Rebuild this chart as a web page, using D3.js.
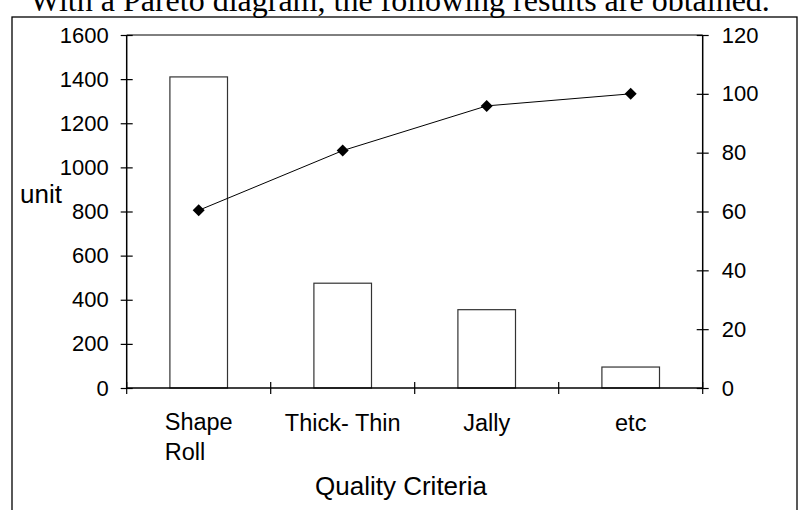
<!DOCTYPE html>
<html>
<head>
<meta charset="utf-8">
<script src="https://cdn.jsdelivr.net/npm/d3@7"></script>
<style>
  body { margin: 0; background: #fff; }
  text { font-family: "Liberation Sans", Arial, sans-serif; fill: #000; }
  .head { font-family: "Liberation Serif", "Times New Roman", serif; }
</style>
</head>
<body>
<script>
// data
var categories = ["Shape Roll", "Thick- Thin", "Jally", "etc"];
var labelLines = [["Shape", "Roll"], ["Thick- Thin"], ["Jally"], ["etc"]];
var units = [1410, 475, 355, 95];          // bars, left axis
var cumPercent = [60.4, 80.7, 95.9, 100];  // line, right axis
var leftTicks = [0, 200, 400, 600, 800, 1000, 1200, 1400, 1600];
var rightTicks = [0, 20, 40, 60, 80, 100, 120];

var W = 803, H = 510;
var margin = {top: 35, right: 100.3, bottom: 122, left: 126.7};
var w = W - margin.left - margin.right,
    h = H - margin.top - margin.bottom;

var svg = d3.select("body").append("svg")
    .attr("width", W)
    .attr("height", H);

// header text, cut off at the top like in the picture
svg.append("text")
    .attr("class", "head")
    .attr("x", 30)
    .attr("y", 11)
    .style("font-size", "32px")
    .text("With a Pareto diagram, the following results are obtained.");

// outer chart frame
svg.append("rect")
    .attr("x", 12).attr("y", 17)
    .attr("width", 785).attr("height", 520)
    .attr("fill", "none")
    .attr("stroke", "#000")
    .attr("stroke-width", 1.3);

var g = svg.append("g")
    .attr("transform", "translate(" + margin.left + "," + margin.top + ")");

var x = d3.scaleBand().domain(categories).range([0, w]).paddingInner(0.6).paddingOuter(0.3);
var xStep = d3.scaleBand().domain(categories).range([0, w]);
var yL = d3.scaleLinear().domain([0, 1600]).range([h, 0]);
var yR = d3.scaleLinear().domain([0, 120]).range([h, 0]);

function cx(i) { return xStep(categories[i]) + xStep.bandwidth() / 2; }

// plot area top border
g.append("line")
    .attr("x1", 0).attr("x2", w)
    .attr("y1", 0).attr("y2", 0)
    .attr("stroke", "#000").attr("stroke-width", 1);

// bars
g.selectAll("rect.bar")
    .data(units)
  .enter().append("rect")
    .attr("class", "bar")
    .attr("x", function(d, i) { return x(categories[i]); })
    .attr("width", x.bandwidth())
    .attr("y", function(d) { return yL(d); })
    .attr("height", function(d) { return h - yL(d); })
    .attr("fill", "#fff")
    .attr("stroke", "#333")
    .attr("stroke-width", 1.2);

// left and right axes
var axL = g.append("g")
    .call(d3.axisLeft(yL).tickValues(leftTicks).tickSize(6).tickPadding(12).tickFormat(d3.format("d")));
var axR = g.append("g")
    .attr("transform", "translate(" + w + ",0)")
    .call(d3.axisRight(yR).tickValues(rightTicks).tickSize(6).tickPadding(13).tickFormat(d3.format("d")));

[axL, axR].forEach(function(ax) {
    ax.select(".domain").remove();
    ax.selectAll(".tick line").attr("stroke", "#000").attr("stroke-width", 1.2);
    ax.selectAll(".tick text").style("font-size", "22px").attr("font-family", null);
});
// ticks cross the axis line
axL.selectAll(".tick line").attr("x1", 6);
axR.selectAll(".tick line").attr("x1", -6);

g.append("line").attr("x1", 0).attr("x2", 0).attr("y1", 0).attr("y2", h)
    .attr("stroke", "#000").attr("stroke-width", 1.5);
g.append("line").attr("x1", w).attr("x2", w).attr("y1", 0).attr("y2", h)
    .attr("stroke", "#000").attr("stroke-width", 1.5);

// x axis with crossing ticks at band edges
g.append("line").attr("x1", 0).attr("x2", w).attr("y1", h).attr("y2", h)
    .attr("stroke", "#000").attr("stroke-width", 1.6);
var edges = categories.map(function(c) { return xStep(c); }).concat([w]);
g.selectAll("line.xtick")
    .data(edges)
  .enter().append("line")
    .attr("class", "xtick")
    .attr("x1", function(d) { return d; }).attr("x2", function(d) { return d; })
    .attr("y1", h - 6).attr("y2", h + 6)
    .attr("stroke", "#000").attr("stroke-width", 1.2);

// category labels: block centred under the band, lines left aligned
var lab = g.selectAll("text.cat")
    .data(labelLines)
  .enter().append("text")
    .attr("class", "cat")
    .style("font-size", "23.5px")
    .attr("transform", function(d, i) {
        return "translate(" + cx(i) + "," + (h + 42 + (d.length > 1 ? 0 : 1)) + ")";
    });
lab.selectAll("tspan")
    .data(function(d) { return d; })
  .enter().append("tspan")
    .attr("dy", function(d, i) { return i === 0 ? 0 : 30; })
    .text(function(d) { return d; });
lab.each(function() {
    var spans = d3.select(this).selectAll("tspan");
    var widest = d3.max(spans.nodes(), function(n) { return n.getComputedTextLength(); });
    spans.attr("x", -widest / 2);
});

// cumulative line
var line = d3.line()
    .x(function(d, i) { return cx(i); })
    .y(function(d) { return yR(d); });

g.append("path")
    .datum(cumPercent)
    .attr("d", line)
    .attr("fill", "none")
    .attr("stroke", "#000")
    .attr("stroke-width", 1);

g.selectAll("path.pt")
    .data(cumPercent)
  .enter().append("path")
    .attr("class", "pt")
    .attr("d", d3.symbol().type(d3.symbolSquare).size(72))
    .attr("transform", function(d, i) {
        return "translate(" + cx(i) + "," + yR(d) + ") rotate(45)";
    })
    .attr("fill", "#000");

// axis titles
svg.append("text")
    .attr("x", 20).attr("y", 203)
    .style("font-size", "26px")
    .text("unit");

svg.append("text")
    .attr("x", 401).attr("y", 495)
    .attr("text-anchor", "middle")
    .style("font-size", "26px")
    .text("Quality Criteria");
</script>
</body>
</html>
